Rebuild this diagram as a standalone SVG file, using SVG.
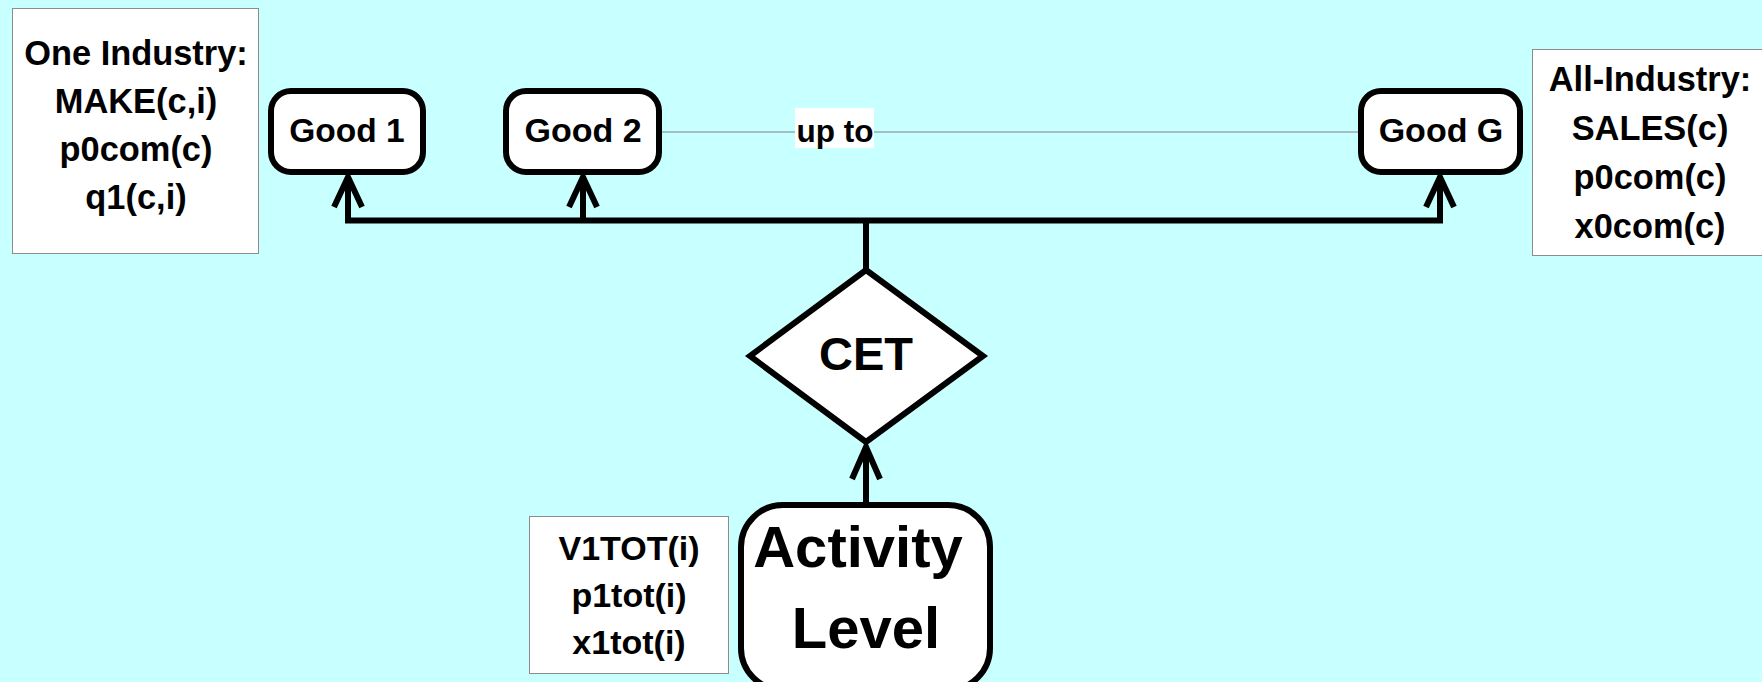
<svg xmlns="http://www.w3.org/2000/svg" width="1762" height="682" viewBox="0 0 1762 682">
<style>
.t{font-family:"Liberation Sans",Arial,sans-serif;font-weight:bold;fill:#000;text-anchor:middle}
.note{fill:#fff;stroke:#8c8c8c;stroke-width:1}
.node{fill:#fff;stroke:#000;stroke-width:6}
.con{fill:none;stroke:#000;stroke-width:6}
.ah{fill:none;stroke:#000;stroke-width:6;stroke-linecap:butt;stroke-linejoin:miter}
</style>
<rect width="1762" height="682" fill="#C8FFFF"/>
<g id="note-one-industry">
<rect class="note" x="12.5" y="8.5" width="246" height="245"/>
<text class="t" font-size="34.4" x="136" y="65">One Industry:</text>
<text class="t" font-size="34.4" x="136" y="113">MAKE(c,i)</text>
<text class="t" font-size="34.4" x="136" y="161">p0com(c)</text>
<text class="t" font-size="34.4" x="136" y="209">q1(c,i)</text>
</g>
<g id="note-all-industry">
<rect class="note" x="1532.5" y="49.5" width="240" height="206"/>
<text class="t" font-size="34.4" x="1650" y="91">All-Industry:</text>
<text class="t" font-size="34.4" x="1650" y="140">SALES(c)</text>
<text class="t" font-size="34.4" x="1650" y="189">p0com(c)</text>
<text class="t" font-size="34.4" x="1650" y="238">x0com(c)</text>
</g>
<g id="note-activity">
<rect class="note" x="529.5" y="516.5" width="199" height="157"/>
<text class="t" font-size="34" x="629" y="560">V1TOT(i)</text>
<text class="t" font-size="34" x="629" y="607">p1tot(i)</text>
<text class="t" font-size="34" x="629" y="654">x1tot(i)</text>
</g>
<g id="connectors">
<line x1="662" y1="132" x2="1358" y2="132" stroke="#808080" stroke-width="1"/>
<rect x="795" y="108" width="79" height="40" fill="#fff"/>
<text class="t" font-size="31.5" x="835" y="142">up to</text>
<polyline class="con" points="348,178 348,220.5 1440,220.5 1440,178"/>
<line class="con" x1="583" y1="178" x2="583" y2="220.5"/>
<line class="con" x1="866" y1="220.5" x2="866" y2="270"/>
<line class="con" x1="866" y1="447" x2="866" y2="505"/>
<polyline class="ah" points="334,207 348,177 362,207"/>
<polyline class="ah" points="569,207 583,177 597,207"/>
<polyline class="ah" points="1426,207 1440,177 1454,207"/>
<polyline class="ah" points="852,479 866,447 880,479"/>
</g>
<g id="good1">
<rect class="node" x="271" y="91" width="152" height="81" rx="20"/>
<text class="t" font-size="33.5" x="347" y="142">Good 1</text>
</g>
<g id="good2">
<rect class="node" x="506" y="91" width="153" height="81" rx="20"/>
<text class="t" font-size="34" x="583" y="142">Good 2</text>
</g>
<g id="goodG">
<rect class="node" x="1361" y="91" width="159" height="81" rx="20"/>
<text class="t" font-size="34" x="1441" y="142">Good G</text>
</g>
<g id="cet">
<polygon class="node" points="866,270 983,356 866,442 750,356"/>
<text class="t" font-size="47" x="866" y="370">CET</text>
</g>
<g id="activity">
<rect class="node" x="741" y="505" width="249" height="185" rx="42"/>
<text class="t" font-size="58" x="858" y="567">Activity</text>
<text class="t" font-size="58" x="866" y="648">Level</text>
</g>
</svg>
